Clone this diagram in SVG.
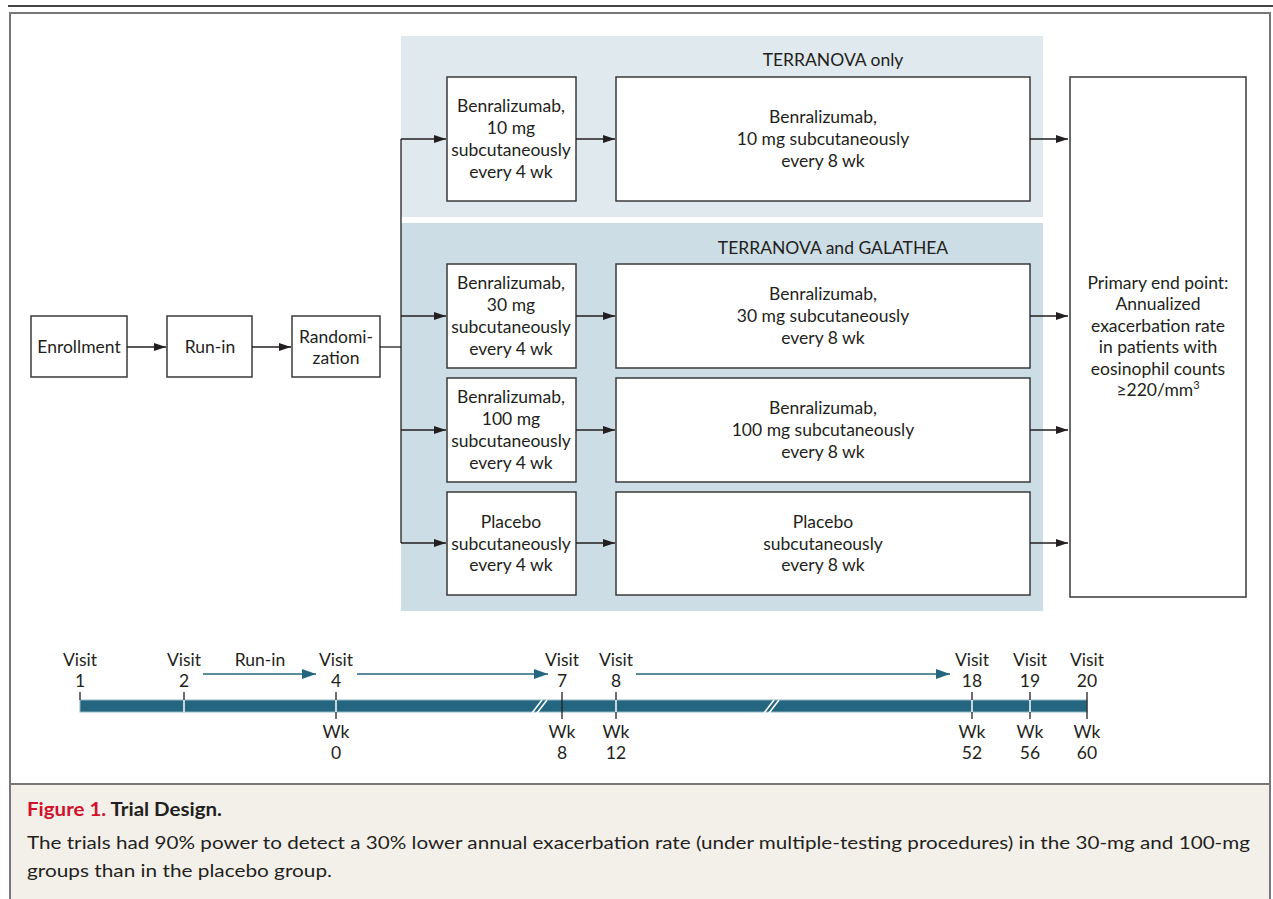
<svg xmlns="http://www.w3.org/2000/svg" width="1273" height="899" viewBox="0 0 1273 899">
<defs>
<style>
.t{font-family:Lato,"Open Sans","Liberation Sans",sans-serif;font-size:17.5px;fill:#231f20;text-anchor:middle}
.box{fill:#fff;stroke:#3a3a3a;stroke-width:1.5}
.con{stroke:#231f20;stroke-width:1.3;fill:none}
.tl{stroke:#246680;stroke-width:1.6;fill:none}
.tick{stroke:#231f20;stroke-width:1.3}
.cap{font-family:Lato,"Open Sans","Liberation Sans",sans-serif;font-size:18px;fill:#231f20}
</style>
<marker id="ah" viewBox="0 0 12 8" refX="12" refY="4" markerWidth="12" markerHeight="8" markerUnits="userSpaceOnUse" orient="auto"><path d="M0,0 L12,4 L0,8 Z" fill="#231f20"/></marker>
<marker id="ahb" viewBox="0 0 14 10" refX="14" refY="5" markerWidth="14" markerHeight="10" markerUnits="userSpaceOnUse" orient="auto"><path d="M0,0 L14,5 L0,10 Z" fill="#246680"/></marker>
</defs>
<rect width="1273" height="899" fill="#fff"/>
<line x1="8" y1="6" x2="1273" y2="6" stroke="#444" stroke-width="2"/>
<rect x="10" y="13" width="1260" height="892" fill="#fff" stroke="#777" stroke-width="2"/>
<rect x="11" y="785" width="1258" height="114" fill="#f3f0ea"/>
<line x1="10" y1="784" x2="1270" y2="784" stroke="#777" stroke-width="2"/>

<g id="panel-terranova"><rect x="401" y="36" width="642" height="181" fill="#dfe9ee"/><text class="t" x="833" y="66">TERRANOVA only</text></g>
<g id="panel-both"><rect x="401" y="223" width="642" height="388" fill="#cddde5"/><text class="t" x="833" y="254">TERRANOVA and GALATHEA</text></g>

<g id="enrollment"><rect class="box" x="31" y="316" width="96" height="61"/><text class="t" x="79" y="353">Enrollment</text></g>
<g id="runin"><rect class="box" x="167" y="316" width="85" height="61"/><text class="t" x="210" y="353">Run-in</text></g>
<g id="randomization"><rect class="box" x="292" y="316" width="88" height="61"/><text class="t" x="336" y="343">Randomi-</text><text class="t" x="336" y="364">zation</text></g>

<g id="arm10-4"><rect class="box" x="447" y="77" width="129" height="124"/><text class="t" x="511" y="112">Benralizumab,</text><text class="t" x="511" y="134">10 mg</text><text class="t" x="511" y="156">subcutaneously</text><text class="t" x="511" y="178">every 4 wk</text></g>
<g id="arm10-8"><rect class="box" x="616" y="77" width="414" height="124"/><text class="t" x="823" y="123">Benralizumab,</text><text class="t" x="823" y="145">10 mg subcutaneously</text><text class="t" x="823" y="167">every 8 wk</text></g>

<g id="arm30-4"><rect class="box" x="447" y="264" width="129" height="104"/><text class="t" x="511" y="289">Benralizumab,</text><text class="t" x="511" y="311">30 mg</text><text class="t" x="511" y="333">subcutaneously</text><text class="t" x="511" y="355">every 4 wk</text></g>
<g id="arm30-8"><rect class="box" x="616" y="264" width="414" height="104"/><text class="t" x="823" y="300">Benralizumab,</text><text class="t" x="823" y="322">30 mg subcutaneously</text><text class="t" x="823" y="344">every 8 wk</text></g>

<g id="arm100-4"><rect class="box" x="447" y="378" width="129" height="104"/><text class="t" x="511" y="403">Benralizumab,</text><text class="t" x="511" y="425">100 mg</text><text class="t" x="511" y="447">subcutaneously</text><text class="t" x="511" y="469">every 4 wk</text></g>
<g id="arm100-8"><rect class="box" x="616" y="378" width="414" height="104"/><text class="t" x="823" y="414">Benralizumab,</text><text class="t" x="823" y="436">100 mg subcutaneously</text><text class="t" x="823" y="458">every 8 wk</text></g>

<g id="placebo-4"><rect class="box" x="447" y="492" width="129" height="103"/><text class="t" x="511" y="528">Placebo</text><text class="t" x="511" y="550">subcutaneously</text><text class="t" x="511" y="571">every 4 wk</text></g>
<g id="placebo-8"><rect class="box" x="616" y="492" width="414" height="103"/><text class="t" x="823" y="528">Placebo</text><text class="t" x="823" y="550">subcutaneously</text><text class="t" x="823" y="571">every 8 wk</text></g>

<g id="endpoint"><rect class="box" x="1070" y="77" width="176" height="520"/>
<text class="t" x="1158" y="289">Primary end point:</text><text class="t" x="1158" y="310">Annualized</text><text class="t" x="1158" y="332">exacerbation rate</text><text class="t" x="1158" y="353">in patients with</text><text class="t" x="1158" y="375">eosinophil counts</text><text class="t" x="1158" y="396">≥220/mm<tspan dy="-7" font-size="11">3</tspan></text></g>

<g id="connectors">
<line class="con" x1="127" y1="347" x2="166" y2="347" marker-end="url(#ah)"/>
<line class="con" x1="252" y1="347" x2="291" y2="347" marker-end="url(#ah)"/>
<polyline class="con" points="380,347 401,347"/>
<line class="con" x1="401" y1="139" x2="401" y2="543"/>
<line class="con" x1="401" y1="139" x2="446" y2="139" marker-end="url(#ah)"/>
<line class="con" x1="401" y1="316" x2="446" y2="316" marker-end="url(#ah)"/>
<line class="con" x1="401" y1="430" x2="446" y2="430" marker-end="url(#ah)"/>
<line class="con" x1="401" y1="543" x2="446" y2="543" marker-end="url(#ah)"/>
<line class="con" x1="576" y1="139" x2="615" y2="139" marker-end="url(#ah)"/>
<line class="con" x1="576" y1="316" x2="615" y2="316" marker-end="url(#ah)"/>
<line class="con" x1="576" y1="430" x2="615" y2="430" marker-end="url(#ah)"/>
<line class="con" x1="576" y1="543" x2="615" y2="543" marker-end="url(#ah)"/>
<line class="con" x1="1030" y1="139" x2="1068" y2="139" marker-end="url(#ah)"/>
<line class="con" x1="1030" y1="316" x2="1068" y2="316" marker-end="url(#ah)"/>
<line class="con" x1="1030" y1="430" x2="1068" y2="430" marker-end="url(#ah)"/>
<line class="con" x1="1030" y1="543" x2="1068" y2="543" marker-end="url(#ah)"/>
</g>

<g id="timeline">
<rect x="80" y="700" width="1007" height="12" fill="#246680" stroke="#8fb3c2" stroke-width="1"/>
<path d="M532,713 L542,700 M537,713 L547,700" stroke="#fff" stroke-width="1.5"/>
<path d="M764,713 L774,700 M769,713 L779,700" stroke="#fff" stroke-width="1.5"/>
<line x1="184" y1="700" x2="184" y2="712" stroke="#fff" stroke-width="1.5"/>
<line x1="336" y1="700" x2="336" y2="712" stroke="#fff" stroke-width="1.5"/>
<line x1="616" y1="700" x2="616" y2="712" stroke="#fff" stroke-width="1.5"/>
<line x1="972" y1="700" x2="972" y2="712" stroke="#fff" stroke-width="1.5"/>
<line x1="1030" y1="700" x2="1030" y2="712" stroke="#fff" stroke-width="1.5"/>
<line class="tick" x1="80" y1="692" x2="80" y2="700"/>
<line class="tick" x1="184" y1="692" x2="184" y2="700"/>
<line class="tick" x1="336" y1="692" x2="336" y2="700"/><line class="tick" x1="336" y1="712" x2="336" y2="719"/>
<line class="tick" x1="562" y1="692" x2="562" y2="719"/>
<line class="tick" x1="616" y1="692" x2="616" y2="700"/><line class="tick" x1="616" y1="712" x2="616" y2="719"/>
<line class="tick" x1="972" y1="692" x2="972" y2="700"/><line class="tick" x1="972" y1="712" x2="972" y2="719"/>
<line class="tick" x1="1030" y1="692" x2="1030" y2="700"/><line class="tick" x1="1030" y1="712" x2="1030" y2="719"/>
<line class="tick" x1="1087" y1="692" x2="1087" y2="719"/>
<line class="tl" x1="203" y1="674" x2="316" y2="674" marker-end="url(#ahb)"/>
<line class="tl" x1="357" y1="674" x2="548" y2="674" marker-end="url(#ahb)"/>
<line class="tl" x1="636" y1="674" x2="950" y2="674" marker-end="url(#ahb)"/>
<text class="t" x="260" y="666">Run-in</text>
<text class="t" x="80" y="666">Visit</text><text class="t" x="80" y="687">1</text>
<text class="t" x="184" y="666">Visit</text><text class="t" x="184" y="687">2</text>
<text class="t" x="336" y="666">Visit</text><text class="t" x="336" y="687">4</text>
<text class="t" x="562" y="666">Visit</text><text class="t" x="562" y="687">7</text>
<text class="t" x="616" y="666">Visit</text><text class="t" x="616" y="687">8</text>
<text class="t" x="972" y="666">Visit</text><text class="t" x="972" y="687">18</text>
<text class="t" x="1030" y="666">Visit</text><text class="t" x="1030" y="687">19</text>
<text class="t" x="1087" y="666">Visit</text><text class="t" x="1087" y="687">20</text>
<text class="t" x="336" y="738">Wk</text><text class="t" x="336" y="759">0</text>
<text class="t" x="562" y="738">Wk</text><text class="t" x="562" y="759">8</text>
<text class="t" x="616" y="738">Wk</text><text class="t" x="616" y="759">12</text>
<text class="t" x="972" y="738">Wk</text><text class="t" x="972" y="759">52</text>
<text class="t" x="1030" y="738">Wk</text><text class="t" x="1030" y="759">56</text>
<text class="t" x="1087" y="738">Wk</text><text class="t" x="1087" y="759">60</text>
</g>

<g id="caption">
<text class="cap" x="27" y="816" font-weight="bold" font-size="19" textLength="195" lengthAdjust="spacingAndGlyphs"><tspan fill="#d2112c">Figure 1.</tspan> Trial Design.</text>
<text class="cap" x="27" y="849" textLength="1223" lengthAdjust="spacingAndGlyphs">The trials had 90% power to detect a 30% lower annual exacerbation rate (under multiple-testing procedures) in the 30-mg and 100-mg</text>
<text class="cap" x="27" y="877" textLength="305" lengthAdjust="spacingAndGlyphs">groups than in the placebo group.</text>
</g>
</svg>
